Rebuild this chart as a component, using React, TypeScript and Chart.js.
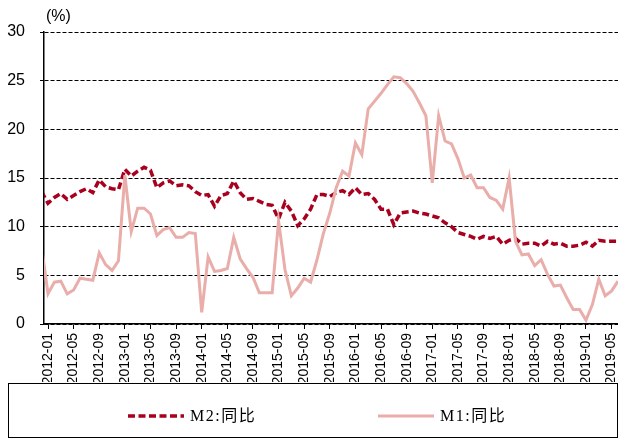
import { useEffect, useRef } from 'react';
import { Chart, registerables } from 'chart.js';

Chart.register(...registerables);

// x index 0 = 2011-12 (partly hidden left of the axis), index 1 = 2012-01 ... index 90 = 2019-06
const firstMonth = '2011-12';

const tickLabels = [
  '2012-01', '2012-05', '2012-09', '2013-01', '2013-05', '2013-09',
  '2014-01', '2014-05', '2014-09', '2015-01', '2015-05', '2015-09',
  '2016-01', '2016-05', '2016-09', '2017-01', '2017-05', '2017-09',
  '2018-01', '2018-05', '2018-09', '2019-01', '2019-05',
];

const seriesLabels = ['M2:同比', 'M1:同比'];

const m2 = [
  13.6,
  12.4, 13.0, 13.4, 12.8, 13.2, 13.6, 13.9, 13.5, 14.8, 14.1, 13.9, 13.8,
  15.9, 15.2, 15.7, 16.1, 15.8, 14.0, 14.5, 14.7, 14.2, 14.3, 14.2, 13.6,
  13.2, 13.3, 12.1, 13.2, 13.4, 14.7, 13.5, 12.8, 12.9, 12.6, 12.3, 12.2,
  10.8, 12.5, 11.6, 10.1, 10.8, 11.8, 13.3, 13.3, 13.1, 13.5, 13.7, 13.3,
  14.0, 13.3, 13.4, 12.8, 11.8, 11.8, 10.2, 11.4, 11.5, 11.6, 11.4, 11.3,
  11.1, 10.9, 10.4, 10.0, 9.4, 9.2, 9.0, 8.7, 9.0, 8.8, 9.0, 8.2,
  8.6, 8.8, 8.2, 8.3, 8.3, 8.0, 8.5, 8.2, 8.3, 8.0, 8.0, 8.1,
  8.4, 8.0, 8.6, 8.5, 8.5, 8.5,
];

const m1 = [
  7.9,
  3.1, 4.3, 4.4, 3.1, 3.5, 4.7, 4.6, 4.5, 7.3, 6.1, 5.5, 6.5,
  15.3, 9.5, 11.9, 11.9, 11.3, 9.1, 9.7, 9.9, 8.9, 8.9, 9.4, 9.3,
  1.2, 6.9, 5.4, 5.5, 5.7, 8.9, 6.7, 5.7, 4.8, 3.2, 3.2, 3.2,
  10.6, 5.6, 2.9, 3.7, 4.7, 4.3, 6.6, 9.3, 11.4, 14.0, 15.7, 15.2,
  18.6, 17.4, 22.1, 22.9, 23.7, 24.6, 25.4, 25.3, 24.7, 23.9, 22.7, 21.4,
  14.5, 21.4, 18.8, 18.5, 17.0, 15.0, 15.3, 14.0, 14.0, 13.0, 12.7, 11.8,
  15.0, 8.5, 7.1, 7.2, 6.0, 6.6, 5.1, 3.9, 4.0, 2.7, 1.5, 1.5,
  0.4, 2.0, 4.6, 2.9, 3.4, 4.4,
];

const yMin = 0;
const yMax = 30;
const yStep = 5;
const yUnit = '(%)';

const M2_COLOR = '#A8001F';
const M1_COLOR = '#E9ADAA';
const SANS = '"Liberation Sans", Arial, sans-serif';

const overlayPlugin = {
  id: 'overlay',
  afterDraw(chart: any) {
    const ctx = chart.ctx;
    ctx.save();
    // unit label
    ctx.fillStyle = '#000';
    ctx.font = `16px ${SANS}`;
    ctx.textAlign = 'left';
    ctx.textBaseline = 'middle';
    ctx.fillText(yUnit, 46, 17);

    // legend box
    ctx.lineWidth = 1;
    ctx.strokeStyle = '#000';
    ctx.strokeRect(8.5, 383.5, 609, 54);

    const ds = chart.data.datasets;
    const items = [
      { x: 128, ds: ds[0] },
      { x: 378, ds: ds[1] },
    ];
    const ly = 416;
    items.forEach((it) => {
      ctx.save();
      ctx.strokeStyle = it.ds.borderColor;
      ctx.lineWidth = it.ds.borderWidth;
      ctx.setLineDash(it.ds.borderDash || []);
      ctx.beginPath();
      ctx.moveTo(it.x, ly);
      ctx.lineTo(it.x + 56, ly);
      ctx.stroke();
      ctx.restore();
      ctx.fillStyle = '#000';
      ctx.font = '16px "Liberation Serif", "Noto Sans CJK SC", serif';
      (ctx as any).letterSpacing = '1.5px';
      ctx.textAlign = 'left';
      ctx.textBaseline = 'middle';
      ctx.fillText(it.ds.label, it.x + 62, ly + 1);
      (ctx as any).letterSpacing = '0px';
    });
    ctx.restore();
  },
};

export default function App() {
  const ref = useRef<HTMLCanvasElement | null>(null);

  useEffect(() => {
    if (!ref.current) return;
    const tickIndex = tickLabels.map((_, k) => 1 + 4 * k);
    const chart = new Chart(ref.current, {
      type: 'line',
      data: {
        datasets: [
          {
            label: seriesLabels[0],
            data: m2.map((v, i) => ({ x: i, y: v })),
            borderColor: M2_COLOR,
            backgroundColor: M2_COLOR,
            borderWidth: 3.5,
            borderDash: [7, 3.5],
            pointRadius: 0,
            tension: 0,
            clip: 0,
            order: 1,
          },
          {
            label: seriesLabels[1],
            data: m1.map((v, i) => ({ x: i, y: v })),
            borderColor: M1_COLOR,
            backgroundColor: M1_COLOR,
            borderWidth: 3,
            pointRadius: 0,
            tension: 0,
            clip: 0,
            order: 0,
          },
        ],
      },
      options: {
        animation: false,
        responsive: false,
        maintainAspectRatio: false,
        layout: { padding: { left: 0, right: 0, top: 32, bottom: 57 } },
        plugins: {
          legend: { display: false },
          tooltip: { enabled: false },
        },
        scales: {
          x: {
            type: 'linear',
            min: 0.375,
            max: 90,
            afterBuildTicks: (scale: any) => {
              scale.ticks = tickIndex.map((v) => ({ value: v }));
            },
            afterFit: (scale: any) => {
              scale.height = 58;
              scale.paddingLeft = 0;
              scale.paddingRight = 0;
            },
            ticks: {
              autoSkip: false,
              minRotation: 90,
              maxRotation: 90,
              padding: 4,
              color: '#000',
              font: { family: SANS, size: 14 },
              callback: (v: any) => {
                const k = tickIndex.indexOf(Number(v));
                return k >= 0 ? tickLabels[k] : '';
              },
            },
            grid: {
              display: true,
              drawOnChartArea: false,
              drawTicks: true,
              tickLength: 5,
              color: '#000',
              lineWidth: 1,
            },
            border: { display: true, color: '#000', width: 1.5 },
          },
          y: {
            type: 'linear',
            min: yMin,
            max: yMax,
            afterFit: (scale: any) => {
              scale.width = 44;
              scale.paddingTop = 0;
              scale.paddingBottom = 0;
            },
            ticks: {
              stepSize: yStep,
              padding: 15,
              color: '#000',
              font: { family: SANS, size: 16 },
            },
            grid: {
              display: true,
              drawOnChartArea: true,
              drawTicks: true,
              tickLength: 4,
              color: '#000',
              lineWidth: 1,
              tickColor: '#000',
            },
            border: { display: true, color: '#000', width: 1.5, dash: [4, 2] },
          },
        },
      },
      plugins: [overlayPlugin],
    });
    return () => chart.destroy();
  }, []);

  return (
    <div style={{ position: 'fixed', left: 0, top: 0, width: 618, height: 439, background: '#fff' }}>
      <canvas ref={ref} width={618} height={439} data-first-month={firstMonth} />
    </div>
  );
}
